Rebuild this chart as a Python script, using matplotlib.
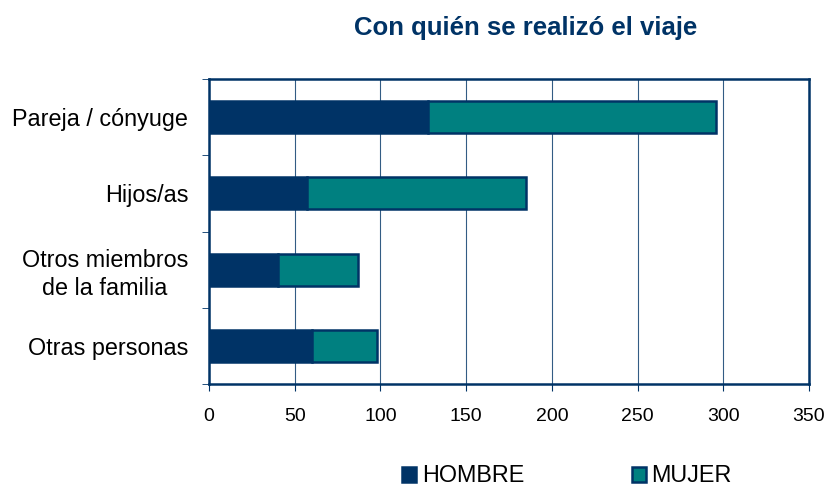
import matplotlib
matplotlib.use("Agg")
import matplotlib.pyplot as plt

# datos
categorias = ["Pareja / cónyuge", "Hijos/as", "Otros miembros\nde la familia", "Otras personas"]
hombre = [128, 57, 40, 60]
mujer = [168, 128, 47, 38]
x_ticks = [0, 50, 100, 150, 200, 250, 300, 350]

NAVY = "#003366"
TEAL = "#008080"

plt.rcParams['font.family'] = ['Liberation Sans', 'DejaVu Sans']

fig = plt.figure(figsize=(8.28, 4.88), dpi=100)
ax = fig.add_axes([209 / 828, 1 - 384 / 488, 600 / 828, 305 / 488])

ypos = list(range(len(categorias)))[::-1]
ax.barh(ypos, hombre, height=0.42, color=NAVY, edgecolor=NAVY, linewidth=1.8, label="HOMBRE", zorder=3)
ax.barh(ypos, mujer, left=hombre, height=0.42, color=TEAL, edgecolor=NAVY, linewidth=1.8, label="MUJER", zorder=3)

ax.set_xlim(0, 350)
ax.set_ylim(-0.5, len(categorias) - 0.5)
ax.set_xticks(x_ticks)
ax.set_xticklabels([str(v) for v in x_ticks], fontsize=14)
ax.tick_params(axis='x', direction='out', length=5, color=NAVY, pad=12)

# etiquetas en el centro de cada barra, ticks en los bordes
ax.set_yticks(ypos)
ax.set_yticklabels(categorias, fontsize=16.8, linespacing=1.25, multialignment='center')
ax.tick_params(axis='y', which='major', length=0, pad=15)
ax.set_yticks([-0.5, 0.5, 1.5, 2.5, 3.5], minor=True)
ax.tick_params(axis='y', which='minor', direction='out', length=5, color=NAVY)

ax.grid(True, axis='x', color=NAVY, linewidth=0.8, alpha=0.8, zorder=0)
for s in ax.spines.values():
    s.set_color(NAVY)
    s.set_linewidth(1.8)

fig.text(526 / 828, 1 - 28 / 488, "Con quién se realizó el viaje", fontsize=18.5, fontweight='bold',
         color=NAVY, ha='center', va='center')

fig.legend(loc='center', bbox_to_anchor=(567 / 828, 1 - 476 / 488), ncol=2, frameon=False, fontsize=16.8,
           handlelength=0.6, handleheight=0.6, handletextpad=0.25, columnspacing=4.6)

fig.savefig("out.png", dpi=100)
